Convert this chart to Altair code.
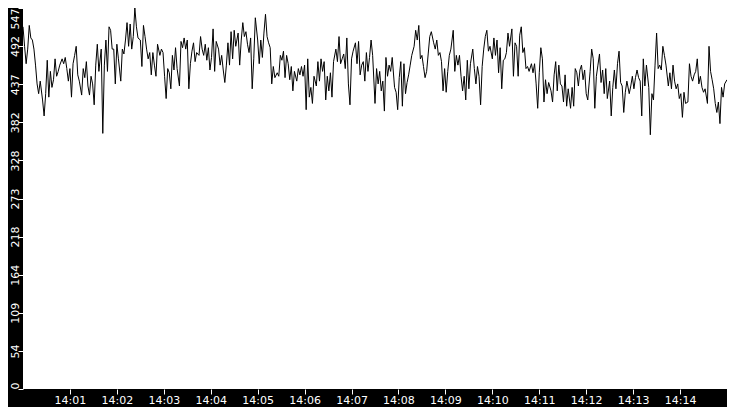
import altair as alt
import pandas as pd

# Values, left to right (one reading every ~2 s)
seg1 = [520, 492, 467, 488, 522, 504, 501, 488, 465, 438, 424, 442, 415, 392, 424, 472, 419, 456,
        433, 444, 474, 449, 456, 465, 474, 467, 476, 460, 442, 460, 419, 467, 479, 492, 451, 442,
        422, 460, 447, 470, 435, 422, 449, 438, 408, 465, 495, 456, 488, 367, 465, 501, 456, 520]
seg2 = [515, 488, 488, 438, 495, 474, 442, 488, 481, 501, 526, 492, 524, 488, 506, 547, 520, 504,
        501, 463, 522, 506, 488, 474, 483, 451, 483, 465, 449, 495, 479, 488, 483, 449, 417, 460,
        454, 431, 479, 458, 490, 460, 435, 499, 490, 504, 488, 501, 431, 467, 485, 497, 470, 483]
seg3 = [479, 506, 488, 479, 495, 472, 490, 458, 476, 517, 456, 499, 488, 465, 479, 458, 440, 465,
        497, 465, 513, 474, 515, 492, 511, 465, 501, 526, 506, 513, 495, 483, 504, 431, 474, 533,
        501, 467, 501, 476, 511, 538, 506, 497, 490, 438, 463, 447, 454, 449, 479, 472, 485, 447]
seg4 = [479, 467, 444, 463, 428, 456, 442, 460, 451, 463, 449, 465, 401, 474, 419, 433, 410, 449,
        435, 470, 442, 474, 456, 470, 415, 449, 428, 454, 419, 470, 488, 470, 506, 467, 474, 481,
        460, 504, 438, 408, 474, 485, 497, 467, 499, 451, 465, 470, 442, 483, 456, 476, 501, 479]
seg5 = [410, 460, 438, 456, 428, 442, 399, 476, 449, 465, 456, 476, 433, 426, 401, 447, 470, 406,
        467, 424, 440, 451, 465, 479, 492, 515, 501, 522, 474, 479, 463, 447, 456, 481, 506, 513,
        497, 488, 501, 479, 483, 470, 428, 460, 426, 456, 479, 488, 515, 456, 479, 465, 479, 449]
seg6 = [428, 449, 415, 472, 431, 467, 488, 460, 438, 463, 449, 408, 463, 488, 506, 515, 485, 492,
        474, 504, 479, 501, 454, 490, 431, 472, 474, 483, 511, 492, 517, 449, 497, 492, 449, 508,
        520, 483, 490, 460, 463, 456, 467, 454, 467, 438, 403, 454, 490, 474, 412, 444, 424, 440]
seg7 = [428, 412, 451, 470, 428, 465, 438, 435, 412, 451, 406, 431, 403, 433, 406, 460, 454, 435,
        458, 465, 444, 458, 424, 415, 456, 488, 474, 403, 449, 465, 481, 440, 458, 424, 460, 417,
        442, 392, 433, 458, 431, 467, 485, 440, 435, 397, 426, 442, 424, 435, 449, 431, 447, 458]
seg8 = [447, 442, 392, 474, 435, 465, 433, 365, 424, 415, 465, 511, 460, 465, 458, 492, 479, 465,
        435, 454, 431, 465, 442, 431, 438, 417, 424, 390, 426, 410, 412, 467, 449, 442, 451, 456,
        474, 438, 449, 433, 426, 431, 410, 492, 456, 444, 431, 410, 397, 412, 381, 433, 419, 438, 444]

values = seg1 + seg2 + seg3 + seg4 + seg5 + seg6 + seg7 + seg8
start, end = "2024-01-01 14:00:00", "2024-01-01 14:15:00"
times = pd.date_range(start, end, periods=len(values))

y_max = 547
y_ticks = [y_max * k / 10 for k in range(11)]
x_ticks = [alt.DateTime(year=2024, month=1, date=1, hours=14, minutes=m) for m in range(1, 15)]

df = pd.DataFrame({"t": times.strftime("%Y-%m-%dT%H:%M:%S"), "v": values})

font = "DejaVu Sans"

chart = alt.Chart(df).mark_line(color="black", strokeWidth=1, clip=True).encode(
    x=alt.X("t:T",
            scale=alt.Scale(domain=[alt.DateTime(year=2024, month=1, date=1, hours=14, minutes=0),
                                    alt.DateTime(year=2024, month=1, date=1, hours=14, minutes=15)],
                            nice=False),
            axis=alt.Axis(values=x_ticks, format="%H:%M", title=None, grid=False, domain=False,
                          tickColor="white", tickSize=5, tickWidth=1,
                          labelColor="white", labelFont=font, labelFontSize=11,
                          labelPadding=0, labelBaseline="top", labelFlush=False)),
    y=alt.Y("v:Q",
            scale=alt.Scale(domain=[0, y_max], nice=False, zero=True),
            axis=alt.Axis(values=y_ticks, labelExpr="floor(datum.value)", title=None,
                          grid=False, domain=False,
                          tickColor="white", tickSize=5, tickWidth=1,
                          labelColor="white", labelFont=font, labelFontSize=11,
                          labelAngle=270, labelBaseline="alphabetic", labelPadding=0,
                          labelFlush=False,
                          labelAlign={"condition": [
                              {"test": "datum.value > 540", "value": "right"},
                              {"test": "datum.value < 1", "value": "left"}],
                              "value": "center"})),
).properties(
    width=704, height=381,
    background="black",
    padding={"left": 15, "top": 0, "right": 0, "bottom": 18},
    autosize=alt.AutoSizeParams(type="none"),
).configure_view(
    fill="white", strokeWidth=0, strokeOpacity=0
)

chart.save("out.html", embed_options={"renderer": "svg", "actions": False})
